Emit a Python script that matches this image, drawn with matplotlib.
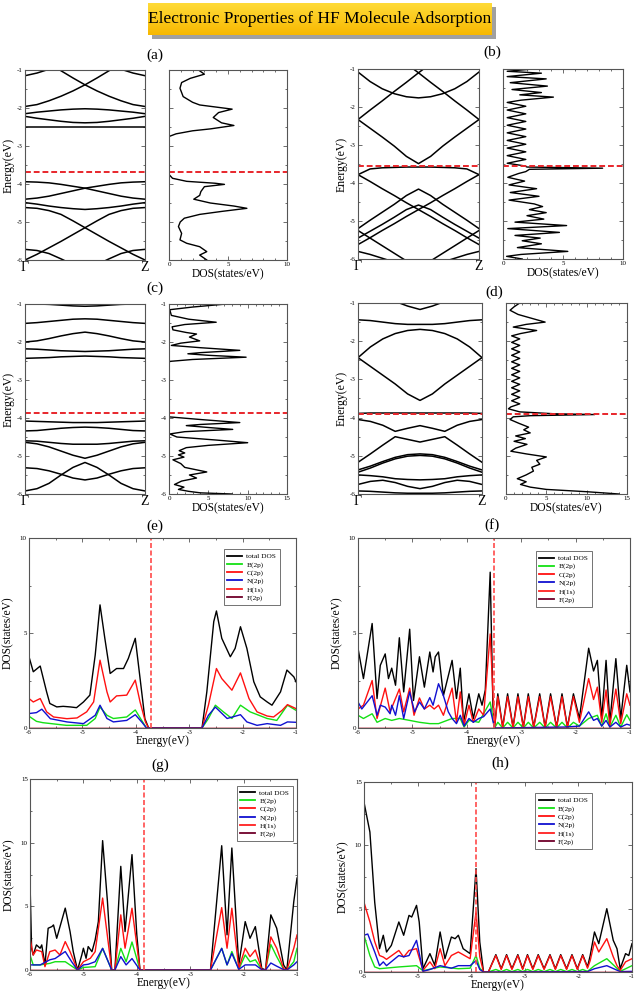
import numpy as np
import matplotlib.pyplot as plt
from matplotlib.lines import Line2D
from matplotlib.ticker import MultipleLocator

plt.rcParams['font.family'] = ['Liberation Serif', 'DejaVu Serif']
plt.rcParams['axes.unicode_minus'] = False

# ---------------- data ----------------
k_path = [0.0, 0.1, 0.2, 0.3, 0.4, 0.5, 0.6, 0.7, 0.8, 0.9, 1.0]
energy_ticks = [-6, -5, -4, -3, -2, -1]
fermi = {'a': -3.69, 'b': -3.54, 'c': -3.86, 'd': -3.91,
         'e': -3.72, 'f': -3.50, 'g': -3.87, 'h': -3.91}

bands_a = [
    [-1.15, -1.08, -0.98, -0.85, -0.75, -0.70, -0.75, -0.85, -0.98, -1.08, -1.15],
    [-0.45, -0.64, -0.83, -1.02, -1.21, -1.39, -1.55, -1.69, -1.81, -1.91, -1.96],
    [-1.96, -1.91, -1.81, -1.69, -1.55, -1.39, -1.21, -1.02, -0.83, -0.64, -0.45],
    [-2.15, -2.11, -2.08, -2.05, -2.03, -2.02, -2.03, -2.05, -2.08, -2.11, -2.15],
    [-2.22, -2.27, -2.31, -2.35, -2.38, -2.39, -2.38, -2.35, -2.31, -2.27, -2.22],
    [-2.51, -2.51, -2.51, -2.51, -2.51, -2.51, -2.51, -2.51, -2.51, -2.51, -2.51],
    [-3.94, -3.95, -3.97, -4.01, -4.06, -4.11, -4.18, -4.25, -4.32, -4.37, -4.40],
    [-4.40, -4.37, -4.32, -4.25, -4.18, -4.11, -4.06, -4.01, -3.97, -3.95, -3.94],
    [-4.49, -4.53, -4.58, -4.62, -4.65, -4.67, -4.65, -4.62, -4.58, -4.53, -4.49],
    [-4.62, -4.64, -4.70, -4.80, -4.97, -5.15, -5.33, -5.51, -5.68, -5.85, -6.00],
    [-6.00, -5.85, -5.68, -5.51, -5.33, -5.15, -4.97, -4.80, -4.70, -4.64, -4.62],
    [-5.72, -5.75, -5.83, -5.97, -6.12, -6.20, -6.12, -5.97, -5.83, -5.75, -5.72],
]
bands_b = [
    [-1.08, -1.33, -1.52, -1.65, -1.73, -1.76, -1.73, -1.65, -1.52, -1.33, -1.08],
    [-2.33, -2.08, -1.84, -1.59, -1.35, -1.10, -0.86, -0.61, -0.37, -0.12, 0.10],
    [0.10, -0.12, -0.37, -0.61, -0.86, -1.10, -1.35, -1.59, -1.84, -2.08, -2.33],
    [-2.33, -2.56, -2.79, -3.03, -3.30, -3.49, -3.30, -3.03, -2.79, -2.56, -2.33],
    [-3.78, -3.63, -3.60, -3.59, -3.58, -3.58, -3.58, -3.59, -3.60, -3.63, -3.78],
    [-3.78, -3.96, -4.15, -4.33, -4.52, -4.70, -4.88, -5.07, -5.25, -5.44, -5.62],
    [-5.62, -5.44, -5.25, -5.07, -4.88, -4.70, -4.52, -4.33, -4.15, -3.96, -3.78],
    [-5.20, -4.98, -4.77, -4.56, -4.33, -4.16, -4.33, -4.56, -4.77, -4.98, -5.20],
    [-5.45, -5.27, -5.09, -4.90, -4.70, -4.58, -4.70, -4.90, -5.09, -5.27, -5.45],
    [-5.25, -5.45, -5.65, -5.85, -6.05, -6.15, -6.05, -5.85, -5.65, -5.45, -5.25],
    [-5.80, -5.88, -5.98, -6.08, -6.15, -6.18, -6.15, -6.08, -5.98, -5.88, -5.80],
]
bands_c = [
    [-1.00, -1.00, -1.01, -1.03, -1.05, -1.06, -1.05, -1.03, -1.01, -1.00, -1.00],
    [-1.51, -1.49, -1.46, -1.43, -1.40, -1.39, -1.40, -1.43, -1.46, -1.49, -1.51],
    [-2.00, -1.97, -1.91, -1.84, -1.78, -1.74, -1.78, -1.84, -1.91, -1.97, -2.00],
    [-2.18, -2.19, -2.21, -2.23, -2.24, -2.25, -2.24, -2.23, -2.21, -2.19, -2.18],
    [-2.43, -2.42, -2.41, -2.39, -2.38, -2.37, -2.38, -2.39, -2.41, -2.42, -2.43],
    [-4.08, -4.09, -4.10, -4.11, -4.12, -4.12, -4.12, -4.11, -4.10, -4.09, -4.08],
    [-4.34, -4.33, -4.30, -4.27, -4.25, -4.24, -4.25, -4.27, -4.30, -4.33, -4.34],
    [-4.60, -4.61, -4.64, -4.67, -4.69, -4.69, -4.69, -4.67, -4.64, -4.61, -4.60],
    [-4.64, -4.68, -4.76, -4.87, -4.98, -5.06, -4.98, -4.87, -4.76, -4.68, -4.64],
    [-5.31, -5.33, -5.39, -5.48, -5.58, -5.63, -5.58, -5.48, -5.39, -5.33, -5.31],
    [-5.92, -5.86, -5.72, -5.50, -5.30, -5.17, -5.30, -5.50, -5.72, -5.86, -5.92],
]
bands_d = [
    [-0.50, -0.60, -0.75, -0.96, -1.08, -1.17, -1.08, -0.96, -0.75, -0.60, -0.50],
    [-1.44, -1.46, -1.50, -1.54, -1.56, -1.56, -1.56, -1.54, -1.50, -1.46, -1.44],
    [-2.43, -2.15, -1.94, -1.80, -1.72, -1.69, -1.72, -1.80, -1.94, -2.15, -2.43],
    [-2.43, -2.66, -2.89, -3.12, -3.38, -3.55, -3.38, -3.12, -2.89, -2.66, -2.43],
    [-3.89, -3.88, -3.88, -3.88, -3.88, -3.88, -3.88, -3.88, -3.88, -3.88, -3.89],
    [-4.05, -4.10, -4.20, -4.36, -4.28, -4.21, -4.28, -4.36, -4.20, -4.10, -4.05],
    [-5.17, -4.95, -4.72, -4.50, -4.57, -4.64, -4.57, -4.50, -4.72, -4.95, -5.17],
    [-5.37, -5.27, -5.15, -5.04, -4.97, -4.95, -4.97, -5.04, -5.15, -5.27, -5.37],
    [-5.43, -5.32, -5.19, -5.08, -5.01, -4.99, -5.01, -5.08, -5.19, -5.32, -5.43],
    [-5.50, -5.52, -5.55, -5.60, -5.62, -5.63, -5.62, -5.60, -5.55, -5.52, -5.50],
    [-5.75, -5.67, -5.64, -5.70, -5.80, -5.86, -5.80, -5.70, -5.64, -5.67, -5.75],
    [-5.92, -5.93, -5.95, -5.97, -5.98, -5.98, -5.98, -5.97, -5.95, -5.93, -5.92],
]

# DOS of panels (a)-(d): (energy, states/eV)
dos_a = [(-1.0, 2.5), (-1.11, 3.0), (-1.22, 1.8), (-1.33, 1.07), (-1.48, 0.93), (-1.7, 1.2),
         (-1.85, 2.0), (-1.92, 2.6), (-2.03, 5.35), (-2.12, 4.2), (-2.25, 3.75), (-2.39, 4.45),
         (-2.46, 5.5), (-2.55, 3.5), (-2.6, 2.0), (-2.68, 0.6), (-2.75, 0.0), (-3.75, 0.0),
         (-3.85, 0.3), (-3.93, 1.5), (-3.98, 3.9), (-4.01, 4.7), (-4.07, 3.0), (-4.2, 2.7),
         (-4.3, 2.6), (-4.4, 2.1), (-4.5, 3.5), (-4.58, 5.5), (-4.64, 6.6), (-4.72, 4.5),
         (-4.8, 2.6), (-4.9, 1.3), (-5.0, 0.95), (-5.12, 0.8), (-5.3, 1.07), (-5.47, 0.93),
         (-5.56, 1.5), (-5.65, 2.6), (-5.78, 3.2), (-5.87, 2.6), (-6.0, 3.2)]
dos_b = [(-1.0, 2.5), (-1.06, 0.35), (-1.11, 3.2), (-1.2, 0.35), (-1.26, 3.6), (-1.36, 0.6),
         (-1.45, 3.7), (-1.54, 0.75), (-1.62, 3.2), (-1.68, 1.4), (-1.74, 4.2), (-1.82, 1.5),
         (-1.88, 0.35), (-1.98, 1.9), (-2.08, 0.35), (-2.18, 1.9), (-2.28, 0.35), (-2.38, 1.9),
         (-2.48, 0.35), (-2.58, 1.9), (-2.68, 0.35), (-2.78, 1.9), (-2.88, 0.35), (-2.98, 1.9),
         (-3.08, 0.35), (-3.18, 1.9), (-3.28, 0.35), (-3.38, 1.9), (-3.48, 0.35), (-3.55, 1.8),
         (-3.58, 2.0), (-3.61, 8.3), (-3.64, 2.2), (-3.7, 1.9), (-3.75, 1.3), (-3.85, 0.4),
         (-3.95, 1.8), (-4.05, 0.5), (-4.15, 2.8), (-4.25, 0.6), (-4.35, 3.0), (-4.45, 0.5),
         (-4.55, 2.6), (-4.62, 3.3), (-4.7, 2.2), (-4.78, 3.6), (-4.86, 2.0), (-4.95, 3.4),
         (-5.03, 1.0), (-5.12, 5.3), (-5.2, 0.4), (-5.3, 4.7), (-5.38, 1.0), (-5.45, 3.1),
         (-5.52, 1.6), (-5.6, 3.2), (-5.7, 1.2), (-5.8, 5.4), (-5.88, 1.5), (-5.93, 0.3),
         (-6.0, 1.6)]
dos_c = [(-1.0, 7.3), (-1.08, 3.0), (-1.15, 0.1), (-1.3, 0.3), (-1.4, 2.5), (-1.48, 6.0),
         (-1.54, 2.0), (-1.6, 0.4), (-1.68, 0.5), (-1.75, 2.2), (-1.79, 3.5), (-1.87, 2.6),
         (-1.97, 3.9), (-2.03, 1.5), (-2.09, 0.3), (-2.15, 4.0), (-2.22, 9.0), (-2.28, 4.0),
         (-2.31, 2.4), (-2.35, 5.0), (-2.4, 9.8), (-2.46, 3.0), (-2.51, 0.1), (-2.56, 0.0),
         (-3.97, 0.0), (-4.04, 4.0), (-4.12, 9.0), (-4.17, 4.0), (-4.2, 2.2), (-4.25, 5.0),
         (-4.3, 8.1), (-4.36, 2.0), (-4.42, 0.1), (-4.5, 1.0), (-4.58, 6.0), (-4.65, 10.0),
         (-4.72, 5.0), (-4.78, 2.2), (-4.86, 1.3), (-4.92, 2.0), (-4.97, 1.2), (-5.03, 1.9),
         (-5.1, 0.5), (-5.2, 1.5), (-5.3, 2.0), (-5.42, 4.8), (-5.5, 2.6), (-5.58, 3.5),
         (-5.66, 1.6), (-5.75, 0.7), (-5.82, 1.9), (-5.88, 1.2), (-5.93, 2.5), (-5.97, 4.0),
         (-6.0, 8.0)]
dos_d = [(-1.0, 1.7), (-1.1, 1.0), (-1.19, 0.5), (-1.3, 1.5), (-1.42, 3.5), (-1.5, 4.85),
         (-1.56, 2.5), (-1.63, 0.9), (-1.72, 3.8), (-1.8, 1.8), (-1.86, 0.7), (-1.94, 1.7),
         (-2.03, 0.7), (-2.11, 1.7), (-2.2, 0.7), (-2.28, 1.7), (-2.37, 0.7), (-2.45, 1.7),
         (-2.54, 0.7), (-2.62, 1.7), (-2.71, 0.7), (-2.79, 1.7), (-2.88, 0.7), (-2.96, 1.7),
         (-3.05, 0.7), (-3.13, 1.7), (-3.22, 0.7), (-3.3, 1.7), (-3.39, 0.7), (-3.47, 1.7),
         (-3.56, 0.7), (-3.64, 1.7), (-3.72, 0.6), (-3.77, 0.3), (-3.85, 1.7), (-3.9, 6.0),
         (-3.92, 11.0), (-3.95, 3.0), (-3.98, 0.9), (-4.05, 0.5), (-4.15, 1.6), (-4.25, 2.8),
         (-4.32, 2.2), (-4.4, 3.0), (-4.48, 1.2), (-4.55, 2.4), (-4.62, 1.0), (-4.7, 2.6),
         (-4.8, 1.2), (-4.88, 0.6), (-4.95, 2.5), (-5.03, 5.0), (-5.12, 3.8), (-5.22, 4.2),
         (-5.3, 3.2), (-5.4, 3.4), (-5.5, 2.5), (-5.6, 1.4), (-5.68, 2.5), (-5.75, 1.8),
         (-5.82, 3.0), (-5.88, 5.0), (-5.94, 10.0), (-6.0, 14.0)]

# projected DOS of panels (e)-(h): (energy, states/eV)
pdos_e_total = [(-6.0, 3.75), (-5.92, 2.96), (-5.79, 3.26), (-5.67, 1.9), (-5.61, 1.29),
                (-5.48, 1.11), (-5.36, 1.14), (-5.23, 1.11), (-5.11, 1.07), (-4.98, 1.37),
                (-4.86, 1.73), (-4.76, 3.84), (-4.67, 6.48), (-4.58, 4.72), (-4.48, 2.87),
                (-4.36, 3.13), (-4.23, 3.13), (-4.14, 3.66), (-4.01, 4.72), (-3.92, 2.61),
                (-3.83, 0.49), (-3.76, 0.0), (-2.76, 0.0), (-2.67, 1.9), (-2.54, 5.6),
                (-2.49, 6.16), (-2.39, 4.72), (-2.23, 3.75), (-2.14, 4.19), (-2.04, 5.33),
                (-1.92, 4.19), (-1.79, 2.43), (-1.67, 1.64), (-1.54, 1.37), (-1.45, 1.2),
                (-1.29, 1.9), (-1.17, 3.05), (-1.04, 2.69), (-1.0, 2.43)]
pdos_e_B = [(-6.0, 0.62), (-5.86, 0.35), (-5.74, 0.28), (-5.3, 0.14), (-4.92, 0.14),
            (-4.76, 0.5), (-4.67, 1.1), (-4.54, 0.67), (-4.42, 0.5), (-4.17, 0.58),
            (-4.01, 0.95), (-3.89, 0.4), (-3.8, 0.0), (-2.76, 0.0), (-2.64, 0.5),
            (-2.51, 1.2), (-2.36, 0.85), (-2.2, 0.5), (-2.04, 1.2), (-1.86, 0.85),
            (-1.54, 0.5), (-1.36, 0.4), (-1.16, 1.2), (-1.0, 0.93)]
pdos_e_C = [(-6.0, 1.55), (-5.92, 1.37), (-5.79, 1.55), (-5.67, 0.85), (-5.54, 0.58),
            (-5.29, 0.49), (-5.1, 0.53), (-4.92, 0.85), (-4.79, 1.37), (-4.67, 3.57),
            (-4.54, 1.9), (-4.48, 1.37), (-4.36, 1.69), (-4.17, 1.73), (-4.01, 2.52),
            (-3.92, 1.37), (-3.82, 0.32), (-3.76, 0.0), (-2.76, 0.0), (-2.64, 1.2),
            (-2.49, 3.13), (-2.39, 2.6), (-2.2, 1.99), (-2.04, 2.9), (-1.88, 1.55),
            (-1.73, 0.85), (-1.54, 0.63), (-1.42, 0.58), (-1.26, 0.93), (-1.16, 1.23),
            (-1.0, 1.02)]
pdos_e_N = [(-6.0, 0.76), (-5.86, 0.81), (-5.76, 0.99), (-5.6, 0.49), (-5.29, 0.32),
            (-4.98, 0.23), (-4.76, 0.67), (-4.67, 1.2), (-4.54, 0.5), (-4.42, 0.32),
            (-4.17, 0.4), (-4.01, 0.7), (-3.89, 0.32), (-3.8, 0.0), (-2.76, 0.0),
            (-2.64, 0.67), (-2.51, 1.1), (-2.29, 0.5), (-2.04, 0.7), (-1.92, 0.32),
            (-1.73, 0.14), (-1.54, 0.23), (-1.29, 0.14), (-1.16, 0.32), (-1.0, 0.3)]

pdos_f_total = [(-6.0, 4.2), (-5.9, 2.6), (-5.74, 5.5), (-5.65, 1.55), (-5.59, 3.3), (-5.5, 3.9),
                (-5.44, 2.6), (-5.38, 3.15), (-5.31, 2.25), (-5.24, 4.75), (-5.16, 1.9),
                (-5.05, 5.2), (-4.98, 1.45), (-4.87, 3.75), (-4.78, 2.15), (-4.68, 4.0),
                (-4.62, 2.95), (-4.58, 3.75), (-4.52, 4.0), (-4.43, 1.7), (-4.27, 3.56),
                (-4.19, 1.55), (-4.12, 3.15), (-4.06, 0.3), (-3.96, 1.8), (-3.88, 0.5),
                (-3.78, 1.8), (-3.72, 1.2), (-3.66, 2.0), (-3.57, 8.2), (-3.52, 1.2),
                (-3.49, 0.0), (-3.43, 1.8), (-3.34, 0.05), (-3.25, 1.8), (-3.15, 0.05),
                (-3.06, 1.8), (-2.96, 0.05), (-2.87, 1.8), (-2.77, 0.05), (-2.66, 1.8),
                (-2.56, 0.05), (-2.46, 1.8), (-2.35, 0.05), (-2.25, 1.8), (-2.15, 0.05),
                (-2.04, 1.8), (-1.93, 0.5), (-1.76, 4.2), (-1.67, 3.0), (-1.6, 3.56),
                (-1.52, 0.5), (-1.44, 3.56), (-1.37, 0.3), (-1.26, 3.65), (-1.17, 0.5),
                (-1.06, 3.3), (-1.0, 1.9)]
pdos_f_B = [(-6.0, 0.67), (-5.9, 0.5), (-5.74, 0.75), (-5.65, 0.3), (-5.5, 0.5), (-5.38, 0.4),
            (-5.24, 0.5), (-5.05, 0.4), (-4.87, 0.3), (-4.68, 0.23), (-4.52, 0.23),
            (-4.27, 0.5), (-4.12, 0.5), (-4.05, 0.05), (-3.96, 0.4), (-3.78, 0.3),
            (-3.57, 1.37), (-3.49, 0.0), (-3.43, 0.3), (-3.34, 0.0), (-3.25, 0.3),
            (-3.15, 0.0), (-3.06, 0.3), (-2.96, 0.0), (-2.87, 0.3), (-2.77, 0.0), (-2.66, 0.3),
            (-2.56, 0.0), (-2.46, 0.3), (-2.35, 0.0), (-2.25, 0.3), (-2.15, 0.0), (-2.04, 0.3),
            (-1.93, 0.1), (-1.76, 0.5), (-1.6, 0.67), (-1.52, 0.1), (-1.44, 0.75),
            (-1.37, 0.05), (-1.26, 0.67), (-1.17, 0.05), (-1.06, 0.7), (-1.0, 0.4)]
pdos_f_C = [(-6.0, 1.0), (-5.9, 1.2), (-5.74, 2.5), (-5.65, 0.5), (-5.5, 2.1), (-5.41, 0.85),
            (-5.24, 2.05), (-5.16, 0.85), (-5.05, 2.1), (-4.97, 0.67), (-4.87, 1.58),
            (-4.78, 1.0), (-4.68, 1.2), (-4.6, 1.0), (-4.52, 1.2), (-4.43, 0.67), (-4.27, 2.1),
            (-4.19, 0.3), (-4.12, 1.9), (-4.05, 0.14), (-3.96, 1.2), (-3.88, 0.3), (-3.78, 1.0),
            (-3.69, 0.67), (-3.57, 4.95), (-3.49, 0.0), (-3.43, 1.65), (-3.34, 0.02),
            (-3.25, 1.65), (-3.15, 0.02), (-3.06, 1.65), (-2.96, 0.02), (-2.87, 1.65),
            (-2.77, 0.02), (-2.66, 1.65), (-2.56, 0.02), (-2.46, 1.65), (-2.35, 0.02),
            (-2.25, 1.65), (-2.15, 0.02), (-2.04, 1.65), (-1.93, 0.3), (-1.76, 2.6),
            (-1.67, 1.5), (-1.6, 2.15), (-1.52, 0.3), (-1.44, 2.0), (-1.37, 0.14),
            (-1.26, 2.05), (-1.17, 0.23), (-1.06, 1.8), (-1.0, 1.2)]
pdos_f_N = [(-6.0, 1.37), (-5.93, 1.0), (-5.74, 1.7), (-5.65, 0.67), (-5.59, 1.2), (-5.5, 1.1),
            (-5.41, 0.75), (-5.38, 1.2), (-5.31, 0.67), (-5.24, 1.7), (-5.16, 0.5),
            (-5.05, 1.9), (-4.96, 0.85), (-4.87, 1.37), (-4.78, 1.0), (-4.68, 1.6),
            (-4.62, 1.2), (-4.52, 2.33), (-4.43, 1.7), (-4.34, 0.85), (-4.27, 0.5),
            (-4.19, 0.23), (-4.12, 0.67), (-4.05, 0.1), (-3.96, 0.5), (-3.88, 0.3),
            (-3.78, 0.5), (-3.69, 0.6), (-3.57, 1.0), (-3.49, 0.0), (-2.2, 0.05),
            (-1.93, 0.1), (-1.76, 0.85), (-1.67, 0.4), (-1.6, 0.5), (-1.52, 0.1),
            (-1.44, 0.4), (-1.37, 0.05), (-1.26, 0.3), (-1.17, 0.05), (-1.06, 0.2),
            (-1.0, 0.15)]

pdos_g_total = [(-6.0, 6.96), (-5.97, 1.71), (-5.94, 1.18), (-5.88, 1.97), (-5.81, 1.71),
                (-5.78, 1.97), (-5.72, 0.39), (-5.66, 3.28), (-5.59, 3.41), (-5.56, 3.54),
                (-5.5, 2.49), (-5.34, 4.86), (-5.25, 3.02), (-5.19, 1.44), (-5.11, 0.0),
                (-5.03, 1.18), (-5.0, 1.71), (-4.95, 0.92), (-4.91, 1.84), (-4.84, 1.44),
                (-4.78, 2.36), (-4.72, 3.8), (-4.64, 10.16), (-4.55, 5.4), (-4.47, 0.0),
                (-4.41, 0.0), (-4.3, 8.14), (-4.22, 3.02), (-4.09, 9.06), (-4.0, 2.76),
                (-3.94, 0.0), (-2.62, 0.0), (-2.41, 9.76), (-2.31, 2.76), (-2.22, 9.58),
                (-2.09, 0.39), (-1.97, 3.8), (-1.88, 2.49), (-1.78, 3.41), (-1.66, 0.13),
                (-1.59, 0.0), (-1.49, 4.33), (-1.38, 3.28), (-1.25, 0.39), (-1.19, 0.0),
                (-1.06, 5.38), (-1.0, 7.22)]
pdos_g_B = [(-6.0, 1.18), (-5.94, 0.4), (-5.81, 0.4), (-5.63, 0.52), (-5.53, 0.65),
            (-5.34, 0.65), (-5.11, 0.0), (-5.0, 0.2), (-4.78, 0.26), (-4.64, 1.7),
            (-4.47, 0.0), (-4.41, 0.0), (-4.3, 1.7), (-4.2, 0.65), (-4.09, 2.2), (-3.94, 0.0),
            (-2.62, 0.0), (-2.41, 1.7), (-2.31, 0.4), (-2.22, 1.45), (-2.09, 0.05),
            (-1.97, 1.18), (-1.88, 0.65), (-1.78, 0.8), (-1.66, 0.05), (-1.59, 0.0),
            (-1.49, 2.0), (-1.38, 1.05), (-1.25, 0.05), (-1.19, 0.0), (-1.06, 0.65),
            (-1.0, 1.7)]
pdos_g_C = [(-6.0, 2.5), (-5.94, 1.18), (-5.88, 1.57), (-5.78, 1.44), (-5.72, 0.26),
            (-5.63, 1.44), (-5.53, 1.57), (-5.44, 1.18), (-5.34, 2.23), (-5.25, 1.44),
            (-5.11, 0.0), (-5.0, 0.65), (-4.87, 0.92), (-4.78, 1.44), (-4.64, 5.65),
            (-4.47, 0.0), (-4.41, 0.0), (-4.3, 4.33), (-4.22, 1.71), (-4.09, 4.85),
            (-3.94, 0.0), (-2.62, 0.0), (-2.41, 4.9), (-2.31, 1.71), (-2.22, 4.85),
            (-2.09, 0.13), (-1.97, 1.71), (-1.88, 1.05), (-1.78, 1.57), (-1.66, 0.05),
            (-1.59, 0.0), (-1.49, 2.6), (-1.38, 1.71), (-1.25, 0.1), (-1.19, 0.0),
            (-1.06, 1.71), (-1.0, 2.75)]
pdos_g_N = [(-6.0, 0.4), (-5.94, 0.4), (-5.81, 0.4), (-5.63, 0.8), (-5.53, 0.9), (-5.34, 1.45),
            (-5.22, 0.65), (-5.11, 0.0), (-5.0, 0.4), (-4.91, 0.45), (-4.78, 0.65),
            (-4.64, 1.7), (-4.47, 0.0), (-4.41, 0.0), (-4.3, 1.05), (-4.2, 0.4), (-4.09, 0.9),
            (-3.94, 0.0), (-2.62, 0.0), (-2.41, 1.7), (-2.31, 0.4), (-2.22, 1.3),
            (-2.09, 0.05), (-1.97, 0.4), (-1.78, 0.4), (-1.66, 0.03), (-1.59, 0.0),
            (-1.49, 0.55), (-1.38, 0.3), (-1.25, 0.03), (-1.19, 0.0), (-1.06, 0.4),
            (-1.0, 0.65)]

pdos_h_total = [(-6.0, 13.4), (-5.89, 11.05), (-5.8, 5.5), (-5.71, 1.84), (-5.64, 2.9),
                (-5.58, 1.58), (-5.49, 2.1), (-5.35, 3.95), (-5.26, 2.9), (-5.16, 4.47),
                (-5.11, 4.34), (-5.02, 5.26), (-4.97, 3.95), (-4.9, 0.26), (-4.77, 1.45),
                (-4.68, 0.53), (-4.58, 3.16), (-4.49, 1.05), (-4.37, 2.76), (-4.3, 2.63),
                (-4.24, 2.9), (-4.15, 1.84), (-4.02, 1.45), (-3.91, 8.16), (-3.84, 2.37),
                (-3.77, 0.0), (-3.68, 0.0), (-3.54, 1.37), (-3.44, 0.26), (-3.34, 1.37),
                (-3.24, 0.26), (-3.13, 1.37), (-3.04, 0.26), (-2.95, 1.37), (-2.85, 0.26),
                (-2.75, 1.37), (-2.64, 0.26), (-2.53, 1.37), (-2.43, 0.26), (-2.33, 1.37),
                (-2.22, 0.26), (-2.12, 1.37), (-2.02, 0.26), (-1.92, 1.37), (-1.83, 0.4),
                (-1.78, 1.3), (-1.7, 3.16), (-1.62, 2.24), (-1.47, 5.0), (-1.35, 2.5),
                (-1.28, 1.84), (-1.22, 0.26), (-1.12, 1.45), (-1.06, 1.3), (-1.0, 2.24)]
pdos_h_B = [(-6.0, 2.9), (-5.89, 1.3), (-5.8, 0.4), (-5.71, 0.26), (-5.35, 0.4), (-5.02, 0.5),
            (-4.9, 0.1), (-4.58, 0.4), (-4.24, 0.26), (-4.02, 0.3), (-3.91, 1.3), (-3.84, 0.3),
            (-3.77, 0.0), (-3.68, 0.0), (-3.54, 0.2), (-3.44, 0.03), (-3.34, 0.2),
            (-3.24, 0.03), (-3.13, 0.2), (-3.04, 0.03), (-2.95, 0.2), (-2.85, 0.03),
            (-2.75, 0.2), (-2.64, 0.03), (-2.53, 0.2), (-2.43, 0.03), (-2.33, 0.2),
            (-2.22, 0.03), (-2.12, 0.2), (-2.02, 0.03), (-1.92, 0.2), (-1.83, 0.05),
            (-1.7, 0.5), (-1.47, 1.05), (-1.22, 0.05), (-1.0, 0.5)]
pdos_h_C = [(-6.0, 5.5), (-5.89, 3.95), (-5.8, 2.4), (-5.71, 1.3), (-5.64, 1.18), (-5.58, 1.0),
            (-5.35, 1.7), (-5.26, 1.18), (-5.16, 1.7), (-5.02, 1.84), (-4.9, 0.13),
            (-4.77, 0.8), (-4.68, 0.26), (-4.58, 1.84), (-4.49, 0.5), (-4.37, 1.3),
            (-4.24, 1.58), (-4.02, 1.05), (-3.91, 4.74), (-3.84, 1.2), (-3.77, 0.0),
            (-3.68, 0.0), (-3.54, 1.3), (-3.44, 0.2), (-3.34, 1.3), (-3.24, 0.2), (-3.13, 1.3),
            (-3.04, 0.2), (-2.95, 1.3), (-2.85, 0.2), (-2.75, 1.3), (-2.64, 0.2), (-2.53, 1.3),
            (-2.43, 0.2), (-2.33, 1.3), (-2.22, 0.2), (-2.12, 1.3), (-2.02, 0.2), (-1.92, 1.3),
            (-1.83, 0.3), (-1.78, 0.9), (-1.7, 2.37), (-1.62, 1.58), (-1.47, 2.63),
            (-1.35, 1.2), (-1.28, 0.5), (-1.22, 0.13), (-1.12, 0.8), (-1.0, 1.05)]
pdos_h_N = [(-6.0, 2.9), (-5.93, 3.0), (-5.8, 1.58), (-5.71, 0.5), (-5.64, 0.8), (-5.58, 0.5),
            (-5.35, 1.3), (-5.26, 1.2), (-5.16, 1.3), (-5.02, 2.5), (-4.9, 0.05), (-4.77, 0.2),
            (-4.58, 0.5), (-4.37, 0.3), (-4.24, 0.5), (-4.02, 0.5), (-3.91, 0.9), (-3.84, 0.2),
            (-3.77, 0.0), (-1.83, 0.03), (-1.7, 0.26), (-1.47, 0.5), (-1.22, 0.03), (-1.0, 0.05)]

pdos_H = [(-6.0, 0.02), (-1.0, 0.02)]
pdos_F = [(-6.0, 0.01), (-1.0, 0.01)]

legend_names = ['total DOS', 'B(2p)', 'C(2p)', 'N(2p)', 'H(1s)', 'F(2p)']
legend_colors = ['black', '#14e014', '#ff1010', '#1010d0', '#ff2020', '#70002a']

# ---------------- drawing ----------------
W, H = 640, 996
fig = plt.figure(figsize=(6.4, 9.96), dpi=100)
FRAME = '#555555'
RED = '#e8262b'


def box(x0, y0, x1, y1):
    return fig.add_axes([x0 / W, 1 - y1 / H, (x1 - x0) / W, (y1 - y0) / H])


def frame(ax):
    for s in ax.spines.values():
        s.set_color(FRAME)
        s.set_linewidth(0.8)
    ax.tick_params(which='both', direction='in', top=True, right=True,
                   color=FRAME, labelsize=5, pad=1.5)
    ax.tick_params(which='major', length=3, width=0.6)
    ax.tick_params(which='minor', length=1.5, width=0.6)


def band_panel(ax, bands, ef):
    frame(ax)
    for b in bands:
        ax.plot(k_path, b, color='black', lw=1.1)
    ax.axhline(ef, color=RED, lw=1.4, ls=(0, (3, 1.5)))
    ax.set_xlim(0, 1)
    ax.set_ylim(-6, -1)
    ax.set_xticks([0, 1])
    ax.set_xticklabels(['Γ', 'Z'], fontsize=10)
    ax.tick_params(axis='x', length=0, pad=1)
    ax.set_yticks(energy_ticks)
    ax.yaxis.set_minor_locator(MultipleLocator(0.5))
    ax.set_ylabel('Energy(eV)', fontsize=8.5, labelpad=2)


def dos_panel(ax, pts, ef, xmax, ylabels):
    frame(ax)
    ax.plot([p[1] for p in pts], [p[0] for p in pts], color='black', lw=1.0)
    ax.axhline(ef, color=RED, lw=1.4, ls=(0, (3, 1.5)))
    ax.set_xlim(0, xmax)
    ax.set_ylim(-6, -1)
    ax.set_xticks(list(range(0, xmax + 1, 5)))
    ax.xaxis.set_minor_locator(MultipleLocator(1))
    ax.set_yticks(energy_ticks)
    ax.yaxis.set_minor_locator(MultipleLocator(0.5))
    if not ylabels:
        ax.set_yticklabels([])
    ax.set_xlabel('DOS(states/eV)', fontsize=8.3, labelpad=1)


def pdos_panel(ax, series, ef, ymax, anchor):
    frame(ax)
    handles = []
    for pts, name, col in zip(series, legend_names, legend_colors):
        ax.plot([p[0] for p in pts], [p[1] for p in pts], color=col, lw=1.0)
        handles.append(Line2D([], [], color=col, lw=1.3, label=name))
    ax.axvline(ef, color='#ff4a4a', lw=1.2, ls=(0, (3, 1.5)))
    ax.set_xlim(-6, -1)
    ax.set_ylim(0, ymax)
    ax.set_xticks(energy_ticks)
    ax.xaxis.set_minor_locator(MultipleLocator(0.5))
    ax.set_yticks(list(range(0, ymax + 1, 5)))
    ax.yaxis.set_minor_locator(MultipleLocator(2.5))
    ax.set_xlabel('Energy(eV)', fontsize=8.3, labelpad=0)
    ax.set_ylabel('DOS(states/eV)', fontsize=8.3, labelpad=4)
    leg = ax.legend(handles=handles, loc='upper right', bbox_to_anchor=anchor,
                    fontsize=5.3, frameon=True, fancybox=False, handlelength=2.0,
                    handletextpad=0.6, labelspacing=0.25, borderpad=0.5,
                    borderaxespad=0)
    leg.get_frame().set_edgecolor('#333333')
    leg.get_frame().set_linewidth(0.6)


# title banner: grey shadow first, then the gradient box on top
shadow = box(152, 7, 496, 39)
shadow.set_axis_off()
shadow.add_artist(plt.Rectangle((0, 0), 1, 1, transform=shadow.transAxes,
                                facecolor='#a0a0a0', edgecolor='none'))
banner = box(148, 3, 492, 35)
grad = np.linspace(0, 1, 64)[:, None, None]
top_col = np.array([1.0, 0.86, 0.22])
bot_col = np.array([0.97, 0.72, 0.0])
banner.imshow(top_col * (1 - grad) + bot_col * grad, aspect='auto', extent=(0, 1, 0, 1))
banner.set_axis_off()
banner.text(0.5, 0.5, 'Electronic Properties of HF Molecule Adsorption',
            ha='center', va='center', fontsize=12.5)

band_panel(box(25, 70, 145, 260), bands_a, fermi['a'])
dos_panel(box(169, 70, 287, 260), dos_a, fermi['a'], 10, False)
band_panel(box(358, 69, 479, 259), bands_b, fermi['b'])
dos_panel(box(503, 69, 623, 259), dos_b, fermi['b'], 10, False)
band_panel(box(25, 304, 145, 494), bands_c, fermi['c'])
dos_panel(box(169, 304, 287, 494), dos_c, fermi['c'], 15, True)
band_panel(box(358, 303, 482, 494), bands_d, fermi['d'])
dos_panel(box(506, 303, 627, 494), dos_d, fermi['d'], 15, False)

pdos_panel(box(29, 538, 296, 728),
           [pdos_e_total, pdos_e_B, pdos_e_C, pdos_e_N, pdos_H, pdos_F],
           fermi['e'], 10, (0.94, 0.94))
pdos_panel(box(358, 538, 630, 728),
           [pdos_f_total, pdos_f_B, pdos_f_C, pdos_f_N, pdos_H, pdos_F],
           fermi['f'], 10, (0.86, 0.93))
pdos_panel(box(30, 779, 297, 970),
           [pdos_g_total, pdos_g_B, pdos_g_C, pdos_g_N, pdos_H, pdos_F],
           fermi['g'], 15, (0.985, 0.965))
pdos_panel(box(364, 782, 632, 972),
           [pdos_h_total, pdos_h_B, pdos_h_C, pdos_h_N, pdos_H, pdos_F],
           fermi['h'], 15, (0.85, 0.94))

for lab, x, y in [('(a)', 155, 55), ('(b)', 492, 52), ('(c)', 155, 288), ('(d)', 494, 292),
                  ('(e)', 155, 526), ('(f)', 492, 525), ('(g)', 160, 765), ('(h)', 500, 763)]:
    fig.text(x / W, 1 - y / H, lab, ha='center', va='center', fontsize=11)

fig.savefig('out.png', dpi=100)
